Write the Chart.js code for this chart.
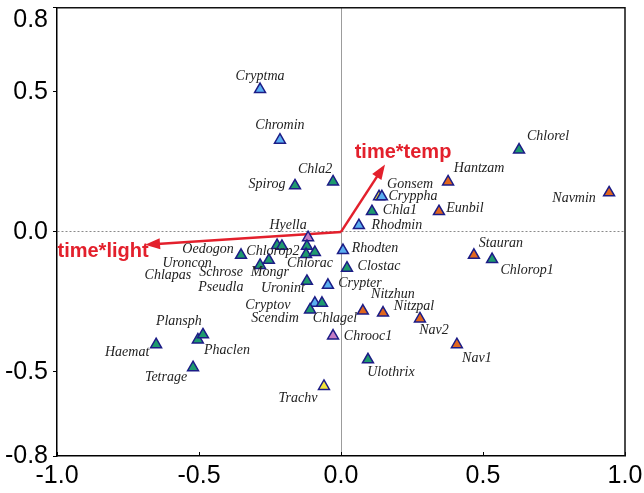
<!DOCTYPE html>
<html><head><meta charset="utf-8">
<script src="https://cdn.jsdelivr.net/npm/chart.js@4"></script>
<style>html,body{margin:0;padding:0;background:#fff}canvas{display:block}</style>
</head><body><canvas id="c" width="644" height="493"></canvas>
<script>
// ---- data ----
const species = ['Cryptma','Chromin','Spirog','Chla2','Gonsem','Cryppha','Chla1','Rhodmin','Hantzam','Eunbil',
  'Chlorel','Navmin','Stauran','Chlorop1','Rhodten','Clostac','Crypter','Nitzhun','Nitzpal','Nav2',
  'Nav1','Chrooc1','Ulothrix','Trachv','Hyella','Oedogon','Uroncon','Chlorop2','Chlapas','Chlorac',
  'Pseudla','Schrose','Mongr','Uronint','Cryptov','Scendim','Chlagel','Plansph','Phaclen','Haemat','Tetrage'];
const axis1 = [-0.285,-0.215,-0.162,-0.028,0.134,0.144,0.109,0.063,0.377,0.345,
  0.627,0.944,0.468,0.532,0.007,0.021,-0.046,0.077,0.148,0.278,
  0.408,-0.028,0.095,-0.060,-0.116,-0.352,-0.225,-0.208,-0.120,-0.123,
  -0.092,-0.285,-0.254,-0.120,-0.092,-0.109,-0.067,-0.504,-0.486,-0.651,-0.521];
const axis2 = [0.509,0.328,0.165,0.179,0.126,0.126,0.073,0.023,0.179,0.073,
  0.293,0.140,-0.083,-0.098,-0.066,-0.129,-0.190,-0.282,-0.289,-0.310,
  -0.402,-0.371,-0.456,-0.551,-0.020,-0.083,-0.048,-0.051,-0.051,-0.080,
  -0.073,-0.119,-0.101,-0.176,-0.254,-0.278,-0.254,-0.385,-0.367,-0.402,-0.484];
const groups = ['B','B','G','G','Y','B','G','B','O','O',
  'G','O','O','G','B','G','B','O','O','O',
  'O','P','G','Y','P','G','G','G','G','G',
  'G','G','G','G','B','G','G','G','G','G','G'];
const envNames = ['time*temp','time*light'];
const envX = [0.155,-0.690];
const envY = [0.241,-0.046];
const xTicks = [-1.0,-0.5,0.0,0.5,1.0];
const yTicks = [0.8,0.5,0.0,-0.5,-0.8];

// ---- label placement (pixel offsets from each marker) ----
const labelDx = [0,0,-28,-18,31,31,28,38,31,26,
  29,-35,27,35,32,32,32,30,31,14,
  20,35,23,-26,-20,-33,-90,-9,-139,4,
  -94,-39,1,-24,-47,-35,13,-19,24,-29,-27];
const labelDy = [-13.5,-14.5,-1.5,-12.5,-12.5,-0.5,-1.5,-0.5,-13.5,-3.5,
  -13.5,5.5,-11.5,10.5,-2.5,-1.5,-1.5,-16.5,-6.5,11.5,
  13.5,0.5,12.5,12.5,-12.5,-5.5,17.5,5.5,29.5,9.5,
  34.5,7.5,12.5,7.5,2.5,8.5,15.5,-18.5,15.5,7.5,9.5];
const envDx = [18,-42];
const envDy = [-12,7];

// ---- styles ----
const groupColors = {G:'#1e9a6e', B:'#5aaef0', O:'#e0661e', P:'#c47cc4', Y:'#f2e43a'};
const ARROW = '#e3202c';
const SANS = '"Liberation Sans", Arial, sans-serif';
const SERIF = '"Liberation Serif", "Times New Roman", serif';

const points = axis1.map((x, i) => ({x, y: axis2[i]}));

const decorPlugin = {
  id: 'decor',
  beforeDatasetsDraw(chart) {
    const {ctx, scales: {x, y}} = chart;
    const ox = x.getPixelForValue(0), oy = y.getPixelForValue(0);
    ctx.save();
    // inward tick marks on bottom axis
    ctx.strokeStyle = '#000'; ctx.lineWidth = 1;
    xTicks.forEach(v => {
      const px = Math.round(x.getPixelForValue(v)) + 0.5;
      ctx.beginPath(); ctx.moveTo(px, y.bottom); ctx.lineTo(px, y.bottom - 4); ctx.stroke();
    });
    // environmental arrows
    envNames.forEach((name, i) => {
      const tx = x.getPixelForValue(envX[i]), ty = y.getPixelForValue(envY[i]);
      const ang = Math.atan2(ty - oy, tx - ox);
      const hl = 15, hw = 5.5;
      const bx = tx - Math.cos(ang) * hl, by = ty - Math.sin(ang) * hl;
      ctx.strokeStyle = ARROW; ctx.fillStyle = ARROW; ctx.lineWidth = 2.5;
      ctx.beginPath(); ctx.moveTo(ox, oy); ctx.lineTo(bx + Math.cos(ang) * 3, by + Math.sin(ang) * 3); ctx.stroke();
      ctx.beginPath();
      ctx.moveTo(tx, ty);
      ctx.lineTo(bx - Math.sin(ang) * hw, by + Math.cos(ang) * hw);
      ctx.lineTo(bx + Math.sin(ang) * hw, by - Math.cos(ang) * hw);
      ctx.closePath(); ctx.fill();
      ctx.font = 'bold 20px ' + SANS;
      ctx.textAlign = 'center'; ctx.textBaseline = 'middle';
      ctx.fillText(name, tx + envDx[i], ty + envDy[i]);
    });
    ctx.restore();
  },
  afterDatasetsDraw(chart) {
    const {ctx, chartArea: a, scales: {x, y}} = chart;
    ctx.save();
    ctx.font = 'italic 14px ' + SERIF;
    ctx.fillStyle = '#222';
    ctx.textAlign = 'center'; ctx.textBaseline = 'middle';
    species.forEach((s, i) => {
      const px = x.getPixelForValue(axis1[i]), py = y.getPixelForValue(axis2[i]);
      ctx.fillText(s, px + labelDx[i], py + labelDy[i]);
    });
    // top and right frame lines
    ctx.strokeStyle = '#111'; ctx.lineWidth = 1.5;
    ctx.beginPath();
    ctx.moveTo(a.left, a.top); ctx.lineTo(a.right, a.top); ctx.lineTo(a.right, a.bottom);
    ctx.stroke();
    ctx.restore();
  }
};

new Chart(document.getElementById('c'), {
  type: 'scatter',
  data: {
    datasets: [{
      data: points,
      pointStyle: 'triangle',
      pointRadius: 6.3,
      pointBorderWidth: 1.5,
      pointBorderColor: '#1c1c86',
      pointBackgroundColor: groups.map(g => groupColors[g])
    }]
  },
  options: {
    responsive: false,
    animation: false,
    layout: {padding: {top: 4, right: 19, left: 0, bottom: 0}},
    plugins: {legend: {display: false}, tooltip: {enabled: false}},
    scales: {
      x: {
        type: 'linear', min: -1, max: 1,
        afterBuildTicks: s => { s.ticks = xTicks.map(v => ({value: v})); },
        afterFit: s => { s.height = 37; s.paddingLeft = 0; s.paddingRight = 0; },
        ticks: {
          padding: 5, color: '#000',
          font: {family: SANS, size: 25},
          callback: v => v.toFixed(1)
        },
        grid: {
          drawTicks: false,
          color: c => (c.tick && c.tick.value === 0) ? '#9c9c9c' : 'rgba(0,0,0,0)',
          lineWidth: 1
        },
        border: {color: '#000', width: 1.5}
      },
      y: {
        type: 'linear', min: -0.8, max: 0.8,
        afterBuildTicks: s => { s.ticks = yTicks.map(v => ({value: v})); },
        afterFit: s => { s.width = 57; s.paddingTop = 0; s.paddingBottom = 0; },
        ticks: {
          padding: 5, color: '#000',
          font: {family: SANS, size: 25, lineHeight: 0.96},
          callback: v => v === 0.8 ? ['', '0.8'] : v.toFixed(1)
        },
        grid: {
          drawTicks: true, tickLength: 4, tickColor: '#000', tickWidth: 1,
          color: c => (c.tick && c.tick.value === 0) ? '#8a8a8a' : 'rgba(0,0,0,0)',
          lineWidth: 1
        },
        border: {color: '#000', width: 1.5, dash: [2, 2]}
      }
    }
  },
  plugins: [decorPlugin]
});
</script></body></html>
